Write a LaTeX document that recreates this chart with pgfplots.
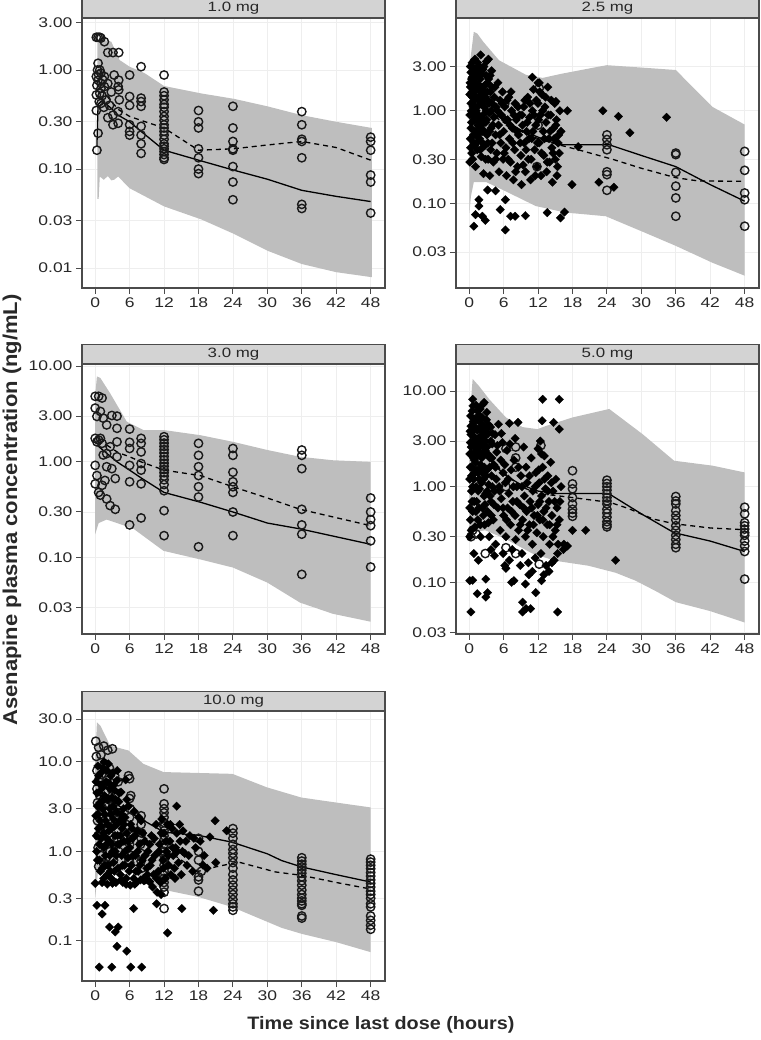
\documentclass[border=0pt]{standalone}
\usepackage{fontspec}
\setmainfont{Liberation Sans}
\newfontfamily\tickfont[FakeStretch=1.25]{Liberation Sans}
\newfontfamily\labfont[FakeStretch=1.1]{Liberation Sans}
\usepackage{pgfplots}
\pgfplotsset{compat=1.18}
\definecolor{bandgray}{RGB}{190,190,190}
\definecolor{stripgray}{RGB}{211,211,211}
\definecolor{axisgray}{RGB}{75,75,75}
\definecolor{gridgray}{RGB}{238,238,238}
\definecolor{tickgray}{RGB}{40,40,40}

\pgfplotsset{
  dosepanel/.style={
    width=303pt, height=270pt, scale only axis,
    xmin=-2.3, xmax=50.5,
    xtick={0,6,...,48}, yminorticks=false,
    tick align=outside, tick pos=left,
    major tick length=6pt,
    axis line style={draw=axisgray, line width=1.1pt},
    every tick/.style={draw=axisgray, line width=1pt},
    grid=major, major grid style={draw=gridgray, line width=0.8pt},
    ticklabel style={font=\tickfont\fontsize{14}{16}\selectfont, text=tickgray},
    /pgf/number format/assume math mode=true,
    every axis title/.style={at={(0.5,1)}, anchor=south, fill=stripgray,
      draw=axisgray, line width=1.1pt, minimum width=303pt,
      minimum height=19pt, inner sep=0pt,
      font=\tickfont\fontsize{13.5}{15}\selectfont, text=tickgray},
    clip mode=individual,
  },
  bandfill/.style={fill=bandgray, draw=none},
  medline/.style={black, line width=1.3pt, no marks},
  obsline/.style={black, line width=1.3pt, dash pattern=on 5pt off 4pt, no marks},
  circmark/.style={only marks, mark=o, mark size=4.2pt,
    mark options={line width=1.4pt, draw=black!90}},
  crossmark/.style={only marks, mark=square*, mark size=3pt,
    mark options={rotate=45, fill=black, draw=black, line width=0.3pt}},
}

\begin{document}
\begin{tikzpicture}
\path[use as bounding box] (0,0) rectangle (760pt,-1040pt);

% ---------- 1.0 mg ----------
\begin{axis}[dosepanel, ymode=log, at={(82pt,-18pt)}, anchor=north west,
  title={1.0 mg}, ymin=0.0063, ymax=3.35,
  ytick={0.01,0.03,0.1,0.3,1,3},
  yticklabels={0.01,0.03,0.10,0.30,1.00,3.00}]
\addplot[bandfill] coordinates {
  (0.4,0.05) (0.4,2.0) (1,2.05) (2.8,1.93) (4.25,1.26) (6,1.08) (8.6,0.93)
  (12,0.69) (18.5,0.58) (24.3,0.51) (30,0.43) (36,0.35) (42,0.30) (48.2,0.26)
  (48.2,0.0081) (42,0.0091) (36,0.011) (30,0.015) (24.3,0.022) (18.5,0.031)
  (12,0.042) (6,0.064) (4,0.084) (3.3,0.078) (2.8,0.077) (2.2,0.085)
  (1.5,0.078) (0.8,0.084) (0.6,0.05)} -- cycle;
\addplot[medline] coordinates {(0.3,0.17) (0.5,0.45) (1,0.48) (2,0.45) (3,0.4)
  (4,0.35) (6,0.3) (8,0.24) (12,0.155) (18,0.123) (24,0.098) (30,0.079)
  (36,0.061) (42,0.053) (48,0.047)};
\addplot[obsline] coordinates {(2,0.55) (4,0.4) (6,0.34) (8,0.31) (12,0.26)
  (18,0.155) (24,0.16) (30,0.175) (36,0.19) (42,0.165) (48,0.123)};
\addplot[circmark] coordinates {
  (0.2,2.14) (0.5,2.14) (0.8,2.14) (1.0,2.1) (1.6,1.93) (2.2,1.5) (3.1,1.5)
  (4.1,1.5) (8.0,1.08) (12,0.89)
  (0.5,1.17) (0.8,1.0) (1.0,0.93) (0.2,0.86) (0.5,0.79) (1.0,0.73) (0.2,0.56)
  (0.8,0.58) (1.0,0.65) (1.6,0.86) (1.6,0.68) (2.2,0.73) (1.9,0.5) (1.0,0.46)
  (0.2,0.39) (0.5,0.23) (0.3,0.155)
  (2.5,0.44) (3.1,0.35) (2.2,0.33) (4.0,0.29) (3.1,0.28) (4.0,0.38) (4.2,0.5)
  (4.0,0.68) (4.1,0.79) (3.3,0.89) (4.1,0.63) (0.4,1.0) (0.6,0.9) (1.3,0.8)
  (0.3,0.7) (1.2,0.55) (0.7,0.48) (2.8,0.6) (1.5,0.42)
  (6,0.89) (6,0.54) (6,0.44) (6,0.28) (6,0.24) (6,0.22)
  (8,0.52) (8,0.48) (8,0.43) (8,0.27) (8,0.22) (8,0.18) (8,0.144)
  (12,0.6) (12,0.55) (12,0.5) (12,0.45) (12,0.42) (12,0.38) (12,0.34)
  (12,0.31) (12,0.28) (12,0.26) (12,0.24) (12,0.22) (12,0.2) (12,0.18)
  (12,0.17) (12,0.16) (12,0.15) (12,0.14) (12,0.13) (12,0.125)
  (18,0.39) (18,0.30) (18,0.26) (18,0.16) (18,0.13) (18,0.10) (18,0.09)
  (24,0.43) (24,0.26) (24,0.19) (24,0.16) (24,0.155) (24,0.106) (24,0.074) (24,0.049)
  (36,0.38) (36,0.28) (36,0.2) (36,0.19) (36,0.13) (36,0.044) (36,0.04)
  (48,0.21) (48,0.19) (48,0.155) (48,0.087) (48,0.074) (48,0.036)};
\end{axis}

% ---------- 2.5 mg ----------
\begin{axis}[dosepanel, ymode=log, at={(456pt,-18pt)}, anchor=north west,
  title={2.5 mg}, ymin=0.0123, ymax=10,
  ytick={0.03,0.1,0.3,1,3},
  yticklabels={0.03,0.10,0.30,1.00,3.00}]
\addplot[bandfill] coordinates {
  (0.05,0.079) (0.05,3.0) (0.8,7.1) (1.4,6.8) (2.5,5.5) (5.2,3.5) (9.9,2.44)
  (12.8,2.26) (16,2.5) (22.7,3.0) (24,3.1) (30.8,2.9) (36,2.75) (42.4,1.1)
  (48,0.71)
  (48,0.0167) (42.4,0.023) (36,0.035) (30.8,0.048) (23.8,0.073) (16.8,0.08)
  (11.6,0.094) (6.3,0.136) (3,0.17) (0.8,0.17) (0.3,0.12)} -- cycle;
\addplot[medline] coordinates {(0.5,1.2) (1,1.3) (2,1.2) (4,0.95) (6,0.8)
  (9,0.62) (12,0.52) (15.6,0.43) (18,0.43) (24.4,0.43) (30,0.33) (36,0.25)
  (42,0.16) (48,0.106)};
\addplot[obsline] coordinates {(0.5,1.0) (2,1.1) (4,0.9) (6,0.75) (9,0.6)
  (12,0.5) (15.6,0.43) (19,0.38) (25,0.3) (30,0.24) (36,0.19) (40,0.175)
  (48,0.174)};
\addplot[circmark] coordinates {
  (0.8,3.3) (3.2,1.3) (6.2,1.2) (12.2,1.75) (12,0.7) (11.8,0.25)
  (24,0.55) (24,0.49) (24,0.43) (24,0.38) (24,0.22) (24,0.205) (24,0.139)
  (36,0.35) (36,0.337) (36,0.217) (36,0.154) (36,0.115) (36,0.073)
  (48,0.365) (48,0.228) (48,0.13) (48,0.11) (48,0.057)};
\addplot[crossmark] coordinates {
  (0.1,0.28) (0.2,0.5) (0.3,1.2) (0.3,2.6) (0.4,0.75) (0.5,1.6) (0.5,3.3)
  (0.6,0.3) (0.7,0.9) (0.8,2.0) (0.8,0.45) (0.9,1.3) (1.0,3.6) (1.0,0.6)
  (1.1,0.25) (1.2,1.0) (1.3,2.4) (1.4,0.38) (1.5,1.8) (1.5,0.7) (1.6,3.0)
  (1.7,1.15) (1.8,0.5) (1.9,2.2) (2.0,0.85) (2.0,4.0) (2.1,0.32) (2.2,1.5)
  (2.3,0.6) (2.4,2.8) (2.5,0.21) (2.6,1.1) (2.7,0.42) (2.8,1.9) (2.9,0.75)
  (3.0,3.4) (3.1,0.55) (3.2,1.3) (3.3,0.3) (3.4,2.2) (3.5,0.95) (3.6,0.2)
  (3.7,1.6) (3.8,0.65) (3.9,2.7) (4.0,0.45) (4.0,1.2)
  (0.2,1.8) (0.4,2.2) (0.6,1.4) (0.7,2.9) (0.9,0.8) (1.1,1.7) (1.2,0.55)
  (1.4,2.7) (1.6,0.9) (1.7,1.9) (1.9,0.65) (2.1,1.2) (2.2,2.5) (2.4,0.9)
  (0.3,0.65) (0.5,1.0) (1.0,1.4) (1.3,0.8) (1.8,1.3) (2.6,1.6) (3.0,1.0)
  (3.2,2.0) (0.15,2.0) (0.5,2.3)
  (0.1,0.9) (0.1,1.5) (0.2,3.0) (0.25,0.4) (0.35,1.0) (0.45,0.35) (0.55,2.0)
  (0.65,1.1) (0.75,0.55) (0.85,1.6) (0.95,2.6) (0.95,0.42) (1.05,1.1)
  (1.15,2.0) (1.25,0.45) (1.35,1.4) (1.45,3.3) (1.55,0.55) (1.65,1.3)
  (1.75,2.5) (1.85,0.8) (1.95,1.6) (1.95,0.38) (2.05,2.9) (2.15,0.7)
  (2.25,1.8) (2.35,0.45) (2.45,1.3) (2.55,3.0) (2.65,0.6) (2.75,1.4)
  (2.85,0.3) (2.95,2.4) (3.05,0.8) (3.15,1.6) (3.25,0.45) (3.35,3.6)
  (3.45,1.2) (3.55,0.6) (3.65,2.4) (3.75,0.38) (3.85,1.0) (3.95,1.8)
  (4.2,0.28) (4.3,0.85) (4.5,1.8) (4.6,0.55) (4.7,1.1) (4.8,0.35) (5.0,2.0)
  (5.1,0.7) (5.2,0.22) (5.4,1.3) (5.5,0.45) (5.6,0.9) (5.8,1.6) (5.9,0.3)
  (6.0,0.6) (6.2,1.1) (6.4,0.4) (6.5,0.2) (6.7,0.8) (6.9,1.4) (7.0,0.5)
  (7.2,0.28) (7.4,1.0) (7.5,0.65) (7.7,0.18) (7.9,0.38) (8.0,1.2) (8.2,0.8)
  (8.4,0.25) (8.6,0.55) (8.8,0.9) (9.0,0.33) (9.1,0.16) (9.3,0.7) (9.5,1.1)
  (9.6,0.45) (9.8,0.22) (10.0,0.6) (10.2,1.4) (10.3,0.3) (10.5,0.85)
  (10.7,0.18) (10.9,0.5) (11.0,1.0) (11.2,1.7) (11.4,0.38) (11.6,0.7)
  (11.8,0.25) (12.0,1.2) (12.0,2.0) (12.2,0.45) (12.4,0.9) (12.5,0.2)
  (12.7,1.5) (12.9,0.6) (13.0,0.33) (13.2,1.1) (13.4,0.75) (13.5,0.22)
  (13.7,1.8) (13.9,0.5) (14.0,0.28) (14.2,0.9) (14.4,0.4) (14.5,0.17)
  (14.7,0.65) (14.9,1.2) (15.0,0.3) (15.2,0.8) (15.3,0.2) (15.5,0.45)
  (15.6,0.55) (15.8,1.0)
  (4.1,0.7) (4.4,1.4) (4.6,0.3) (4.9,1.0) (5.3,0.55) (5.7,1.2) (6.1,0.35)
  (6.3,0.8) (6.6,1.3) (6.8,0.3) (7.1,0.7) (7.3,1.6) (7.6,0.45) (7.8,0.9)
  (8.1,0.22) (8.3,0.6) (8.5,1.1) (8.9,0.45) (9.2,0.9) (9.4,0.26) (9.7,1.3)
  (9.9,0.38) (10.1,0.75) (10.4,0.5) (10.6,1.2) (10.8,0.3) (11.1,0.6)
  (11.3,0.9) (11.5,0.2) (11.7,1.3) (11.9,0.45) (12.1,0.8) (12.3,1.6)
  (12.6,0.35) (12.8,1.0) (13.1,0.5) (13.3,1.4) (13.6,0.28) (13.8,0.9)
  (14.1,0.6) (14.3,1.3) (14.6,0.35) (14.8,0.5) (15.1,0.7) (15.4,0.25)
  (15.7,0.35) (16,0.6)
  (23.3,1.0) (26,0.87) (28,0.58) (34.4,0.85) (17.1,1.0) (19,0.41) (17.9,0.16)
  (22.6,0.17) (25.2,0.15) (15.1,1.26) (11,2.3) (12.2,2.0)
  (0.8,0.057) (1.1,0.076) (1.7,0.094) (2.3,0.073) (2.8,0.066) (1.7,0.11)
  (3.2,0.14) (4.6,0.137) (6.3,0.052) (6.3,0.11) (5.4,0.086) (7.2,0.073)
  (8.0,0.073) (9.8,0.074) (13.6,0.08) (15.9,0.07) (16.6,0.081)};
\end{axis}

% ---------- 3.0 mg ----------
\begin{axis}[dosepanel, ymode=log, at={(82pt,-364pt)}, anchor=north west,
  title={3.0 mg}, ymin=0.016, ymax=10.5,
  ytick={0.03,0.1,0.3,1,3,10},
  yticklabels={0.03,0.10,0.30,1.00,3.00,10.00}]
\addplot[bandfill] coordinates {
  (0,0.176) (0,5) (0.3,7.8) (0.9,7.5) (2.6,5.2) (5.5,2.63) (8.4,2.15)
  (11.9,2.15) (18.3,1.9) (24,1.62) (30,1.33) (35.7,1.13) (41.4,1.04) (48,1.0)
  (48,0.0215) (41.4,0.026) (35.7,0.034) (30,0.055) (24,0.079) (18.3,0.096)
  (11.9,0.118) (6.7,0.2) (3.8,0.23) (2,0.25) (0.6,0.23)} -- cycle;
\addplot[medline] coordinates {(0.3,1.5) (1,1.38) (3.8,1.0) (6,0.82) (8,0.68)
  (12,0.48) (18.3,0.38) (24,0.3) (30,0.23) (35.7,0.2) (48,0.138)};
\addplot[obsline] coordinates {(2,1.5) (4,1.25) (6,1.13) (8,1.0) (12,0.82)
  (18.3,0.72) (24,0.55) (30,0.42) (35.7,0.32) (48,0.216)};
\addplot[circmark] coordinates {
  (0,4.83) (0.6,4.83) (1.2,4.64) (0,3.64) (0.3,2.98) (0.9,3.36) (1.4,2.86)
  (0,1.76) (0.3,1.62) (0.6,1.69) (0.9,1.76) (1.2,1.56) (0,0.92) (0.3,0.72)
  (0,0.59) (0.6,0.48) (0.9,0.45) (1.2,0.57) (1.7,0.64) (2.0,0.41) (2.6,0.35)
  (3.5,0.32) (2.0,0.89) (2.9,0.85) (3.8,1.13) (2.6,1.44) (2.0,1.22)
  (2.9,3.05) (3.8,3.0) (3.8,2.24) (3.8,1.62) (3.5,0.67) (1.4,1.18) (2.0,2.43)
  (6,2.2) (6,1.6) (6,1.38) (6,0.92) (6,0.62) (6,0.22)
  (8,1.76) (8,1.56) (8,1.27) (8,0.96) (8,0.82) (8,0.59) (8,0.26)
  (12,1.83) (12,1.7) (12,1.57) (12,1.45) (12,1.34) (12,1.24) (12,1.14)
  (12,1.05) (12,0.97) (12,0.9) (12,0.83) (12,0.77) (12,0.71) (12,0.65)
  (12,0.58) (12,0.5) (12,0.31) (12,0.17)
  (18,1.56) (18,1.17) (18,0.89) (18,0.72) (18,0.55) (18,0.43) (18,0.13)
  (24,1.38) (24,1.17) (24,0.78) (24,0.62) (24,0.55) (24,0.48) (24,0.3) (24,0.17)
  (36,1.33) (36,1.17) (36,0.85) (36,0.32) (36,0.22) (36,0.176) (36,0.067)
  (48,0.42) (48,0.3) (48,0.25) (48,0.216) (48,0.15) (48,0.08)};
\end{axis}

% ---------- 5.0 mg ----------
\begin{axis}[dosepanel, ymode=log, at={(456pt,-364pt)}, anchor=north west,
  title={5.0 mg}, ymin=0.0288, ymax=19.2,
  ytick={0.03,0.1,0.3,1,3,10},
  yticklabels={0.03,0.10,0.30,1.00,3.00,10.00}]
\addplot[bandfill] coordinates {
  (0.05,0.33) (0.05,5) (0.6,13.4) (1.7,11.3) (3.5,8.2) (6.4,5.3) (9.3,4.2)
  (11.9,4.0) (13.3,4.3) (18,5.3) (24.4,6.5) (30.2,3.55) (35.7,1.87)
  (42.4,1.66) (48,1.41)
  (48,0.038) (42,0.05) (36,0.062) (32.5,0.081) (29,0.104) (25.5,0.126)
  (20.8,0.149) (15,0.168) (11,0.2) (6.3,0.285) (2.8,0.35)} -- cycle;
\addplot[medline] coordinates {(0.5,2.2) (1,2.6) (2,2.4) (4,1.8) (6,1.35)
  (9,1.05) (12,0.9) (15,0.85) (18,0.85) (23.7,0.85) (24.4,0.84) (30,0.52)
  (35.7,0.33) (42,0.27) (48,0.21)};
\addplot[obsline] coordinates {(1,2.4) (3,2.1) (6,1.4) (9,1.0) (12,0.85)
  (18,0.77) (22.5,0.71) (24.4,0.69) (27.8,0.59) (32,0.46) (35.7,0.41)
  (42,0.37) (48,0.355)};
\addplot[circmark] coordinates {
  (6.4,2.5) (8.1,2.6) (8.1,2.0) (8.1,1.6) (6.4,1.0) (6.4,0.23) (8.1,0.2)
  (0.6,0.35) (0.3,0.3) (12.5,2.7) (12.2,0.155) (2.8,0.2) (1.2,0.32)
  (18,1.47) (18,1.07) (18,0.95) (18,0.77) (18,0.66) (18,0.58) (18,0.53) (18,0.49)
  (24,1.17) (24,1.08) (24,1.0) (24,0.92) (24,0.84) (24,0.77) (24,0.71)
  (24,0.66) (24,0.58) (24,0.53) (24,0.48) (24,0.43) (24,0.4) (24,0.38)
  (36,0.79) (36,0.71) (36,0.66) (36,0.56) (36,0.5) (36,0.45) (36,0.39)
  (36,0.35) (36,0.31) (36,0.28) (36,0.25) (36,0.23)
  (48,0.61) (48,0.52) (48,0.42) (48,0.39) (48,0.36) (48,0.33) (48,0.31)
  (48,0.27) (48,0.24) (48,0.21) (48,0.108)};
\addplot[crossmark] coordinates {
  (0.1,0.3) (0.2,2.9) (0.2,1.6) (0.3,4.3) (0.4,0.9) (0.5,2.2) (0.5,6.2)
  (0.6,0.55) (0.7,3.4) (0.8,1.2) (0.9,5.1) (1.0,0.38) (1.0,2.6)
  (1.1,1.8) (1.2,7.1) (1.3,0.7) (1.4,3.9) (1.5,1.4) (1.5,0.45) (1.6,2.3)
  (1.7,5.6) (1.8,0.95) (1.9,3.0) (2.0,1.7) (2.0,0.3)
  (2.1,4.6) (2.2,2.0) (2.3,0.6) (2.4,7.3) (2.5,1.2) (2.6,3.3) (2.7,0.4)
  (2.8,2.4) (2.9,0.85) (3.0,5.0) (3.1,1.5) (3.2,0.55) (3.3,3.6) (3.4,1.05)
  (3.5,0.3) (3.6,2.0) (3.7,4.2) (3.8,0.7) (3.9,1.3) (4.0,2.8)
  (0.3,3.5) (0.7,4.8) (1.1,2.8) (1.3,5.0) (1.6,3.2) (1.9,6.5) (2.2,3.8)
  (2.5,2.7) (0.4,1.3) (0.9,1.9) (1.4,2.1) (1.8,1.5) (2.3,1.4) (2.8,4.0)
  (3.1,2.6) (0.5,0.7) (1.2,1.0) (1.7,0.6) (2.6,0.8)
  (0.1,0.6) (0.1,1.2) (0.1,2.2) (0.15,3.8) (0.2,0.45) (0.25,5.5) (0.35,2.6)
  (0.35,0.35) (0.45,1.6) (0.55,3.8) (0.6,1.0) (0.65,7.0) (0.75,2.0)
  (0.85,0.7) (0.85,3.0) (0.95,1.4) (1.05,4.2) (1.15,0.55) (1.25,2.3)
  (1.35,1.5) (1.45,6.2) (1.55,0.9) (1.65,4.0) (1.75,1.2) (1.85,2.6)
  (1.95,0.4) (2.05,3.4) (2.15,1.1) (2.25,5.3) (2.35,2.1) (2.45,0.5)
  (2.55,4.3) (2.65,1.6) (2.75,0.65) (2.85,3.0) (2.95,1.3) (3.05,6.0)
  (3.15,0.9) (3.25,2.2) (3.35,0.42) (3.45,4.4) (3.55,1.6) (3.65,0.8)
  (3.75,3.0) (3.85,0.5) (3.95,2.0) (4.05,1.0) (4.1,3.6) (4.3,0.65)
  (4.6,1.6) (4.9,2.7) (5.3,0.9) (5.6,3.6) (5.9,0.6) (6.2,1.7) (6.5,0.45)
  (6.8,1.2) (7.1,2.8) (7.4,0.55) (7.7,1.0) (8.0,3.2) (8.3,0.7) (8.6,1.6)
  (8.9,0.4) (9.2,1.0) (9.5,0.6) (9.9,1.6) (10.2,0.35) (10.5,1.3) (10.9,0.6)
  (11.2,0.4) (11.5,1.0) (11.9,0.5) (12.1,1.5) (12.3,0.7) (12.6,2.2)
  (12.8,0.45) (13.1,1.2) (13.4,0.6) (13.7,0.9) (14,0.4) (14.3,1.1)
  (14.6,0.3) (14.9,0.7) (15.3,0.4) (15.8,0.7)
  (4.2,0.45) (4.3,1.7) (4.4,0.9) (4.5,3.5) (4.6,0.25) (4.7,1.2) (4.8,2.3)
  (5.0,0.6) (5.1,4.5) (5.2,1.0) (5.4,0.35) (5.5,1.9) (5.6,0.75) (5.8,2.9)
  (5.9,1.4) (6.0,0.5) (6.2,0.15) (6.3,1.1) (6.4,0.3) (6.6,2.4) (6.7,0.6)
  (6.9,0.85) (7.0,4.6) (7.2,0.4) (7.3,1.5) (7.5,0.22) (7.6,0.7) (7.8,1.9)
  (8.0,0.5) (8.1,0.28) (8.3,1.0) (8.5,4.7) (8.6,0.35) (8.8,0.65) (9.0,1.3)
  (9.2,0.2) (9.3,0.45) (9.5,2.6) (9.6,0.8) (9.8,0.3) (10.0,0.55) (10.1,1.1)
  (10.3,0.16) (10.5,0.4) (10.6,0.7) (10.8,2.0) (11.0,0.25) (11.1,0.9)
  (11.3,0.5) (11.5,0.18) (11.6,1.4) (11.8,0.33) (12.0,0.65) (12.0,2.5)
  (12.2,1.1) (12.3,0.45) (12.4,3.0) (12.5,0.2) (12.6,0.8) (12.8,1.6)
  (12.9,0.3) (13.0,0.55) (13.1,2.1) (13.3,0.95) (13.4,0.15) (13.6,0.4)
  (13.7,1.3) (13.9,0.7) (14.0,0.25) (14.2,1.8) (14.4,0.5) (14.6,0.9)
  (14.8,0.17) (15.0,0.35) (15.1,1.2) (15.3,0.6) (15.5,0.25) (15.7,0.45)
  (16.0,1.0) (16.5,0.25)
  (0.6,8.2) (2.6,7.6) (12.8,8.2) (15.7,8.2) (12.7,4.9) (14.7,4.7) (15.7,4.0)
  (25.5,0.17) (20.3,0.35) (18,0.35) (0.3,0.049) (15.4,0.049) (9.3,0.049)
  (9.9,0.053) (10.7,0.053) (0.1,0.104) (0.6,0.105) (2.9,0.108) (1.4,0.076)
  (2.9,0.07) (3.2,0.078) (7.8,0.104) (9.3,0.062) (9.8,0.096) (10.4,0.12)
  (11.6,0.078) (12.6,0.104) (6.4,0.14) (7.4,0.1) (11.0,0.13) (13.0,0.12)
  (13.9,0.13) (14.4,0.16) (15.4,0.2) (16.4,0.22) (17.1,0.24) (0.8,0.2)
  (1.6,0.17) (3.8,0.22) (4.4,0.19) (5.9,0.2) (8.9,0.15) (7.0,0.17)};
\end{axis}

% ---------- 10.0 mg ----------
\begin{axis}[dosepanel, ymode=log, at={(82pt,-711pt)}, anchor=north west,
  title={10.0 mg}, ymin=0.0357, ymax=37,
  ytick={0.1,0.3,1,3,10,30},
  yticklabels={0.1,0.3,1.0,3.0,10.0,30.0}]
\addplot[bandfill] coordinates {
  (0,0.31) (0,10) (0.3,27.6) (0.9,25.4) (2.6,15.2) (5.8,13.4) (8.4,9.5)
  (11.9,7.7) (23.9,7.35) (29.9,5.2) (35.9,4.0) (41.5,3.55) (48,3.1)
  (48,0.075) (42,0.097) (36,0.12) (32.5,0.14) (23.8,0.24) (18,0.31)
  (12.2,0.37) (9.3,0.45) (6,0.6) (3.5,0.61) (0.5,0.6)} -- cycle;
\addplot[medline] coordinates {(0.5,3.5) (1,4.2) (3,3.6) (6,2.7) (8,2.3)
  (12,1.64) (18,1.51) (23.8,1.27) (30,0.94) (32.5,0.79) (36,0.67) (42,0.55)
  (48,0.455)};
\addplot[obsline] coordinates {(1,3.5) (3,2.8) (6,2.0) (8,1.5) (12,1.1)
  (15,0.8) (18,0.6) (20.9,0.67) (25,0.76) (31.4,0.59) (36,0.54) (42,0.45)
  (48,0.38)};
\addplot[circmark] coordinates {
  (0.1,17) (0.2,11.5) (0.3,8) (0.3,5) (0.4,3.5) (0.4,2.2) (0.5,1.5) (0.5,1.1)
  (0.6,14.5) (0.7,6.5) (0.8,4.2) (0.8,2.6) (0.9,1.8) (1.0,0.9) (1.0,12)
  (1.1,7.2) (1.2,3.1) (1.3,5.5) (1.4,2.0) (1.5,15) (1.6,1.3) (1.7,9.5)
  (1.8,4.6) (1.9,2.8) (2.0,0.72) (2.0,6.2) (2.2,13.5) (2.3,3.8) (2.4,1.6)
  (2.5,8.5) (2.6,2.3) (2.8,5.0) (2.9,1.2) (3.0,14.0) (3.1,3.3) (3.2,0.8)
  (3.4,7.0) (3.5,2.1) (3.7,4.4) (3.8,1.4) (4.0,6.0) (4.0,2.7) (4.1,1.0)
  (0.6,0.68) (1.4,0.75) (2.6,1.0)
  (5.8,7.0) (6.0,6.5) (6.2,4.2) (6.0,3.9) (6.1,3.0) (6.0,2.4) (6.2,1.6)
  (6.1,1.35) (6.0,1.2) (6.3,0.9) (6.0,0.75) (5.9,0.8)
  (8.0,2.5) (8.0,2.0) (8.1,1.6) (7.9,1.2) (8.0,0.95) (8.0,0.78) (8.1,0.65)
  (8.0,1.4)
  (12,5.0) (12,3.4) (12,3.0) (12,2.7) (12,2.4) (12,2.1) (12,1.9) (12,1.7)
  (12,1.5) (12,1.35) (12,1.2) (12,1.1) (12,1.0) (12,0.9) (12,0.8) (12,0.7)
  (12,0.6) (12,0.5) (12,0.45) (12,0.4) (12,0.35) (12,0.23) (11.8,0.55)
  (12.2,0.85)
  (18,1.4) (18,1.0) (18,0.8) (18,0.52) (18,0.48) (18,0.36) (18.5,0.6)
  (24,1.8) (24,1.6) (24,1.4) (24,1.2) (24,1.05) (24,0.95) (24,0.85) (24,0.75)
  (24,0.65) (24,0.55) (24,0.48) (24,0.42) (24,0.37) (24,0.33) (24,0.29)
  (24,0.26) (24,0.24) (24,0.22)
  (36,0.85) (36,0.78) (36,0.72) (36,0.67) (36,0.62) (36,0.57) (36,0.52)
  (36,0.47) (36,0.42) (36,0.37) (36,0.33) (36,0.3) (36,0.28) (36,0.26)
  (36,0.25) (36,0.19) (36,0.18)
  (48,0.82) (48,0.76) (48,0.7) (48,0.64) (48,0.58) (48,0.53) (48,0.48)
  (48,0.44) (48,0.4) (48,0.36) (48,0.33) (48,0.3) (48,0.26) (48,0.24)
  (48,0.19) (48,0.17) (48,0.15) (48,0.135)};
\addplot[crossmark] coordinates {
  (0.2,1.5) (0.3,4.5) (0.4,0.8) (0.5,2.6) (0.6,7.0) (0.7,1.2) (0.8,3.5)
  (0.9,0.6) (1.0,5.5) (1.1,1.9) (1.2,0.45) (1.3,3.0) (1.4,8.5) (1.5,1.1)
  (1.6,4.2) (1.7,0.7) (1.8,2.2) (1.9,6.0) (2.0,1.4) (2.1,0.55) (2.2,3.8)
  (2.3,9.5) (2.4,1.7) (2.5,0.9) (2.6,5.0) (2.7,2.6) (2.8,0.5) (2.9,1.2)
  (3.0,7.5) (3.1,3.2) (3.2,0.75) (3.3,1.9) (3.4,4.8) (3.5,1.0) (3.6,0.45)
  (3.7,2.8) (3.8,6.2) (3.9,1.5) (4.0,0.65) (4.1,3.6) (4.2,1.2) (4.3,2.2)
  (4.4,0.55) (4.5,4.6) (4.6,0.9) (4.7,1.8) (4.8,0.45) (4.9,3.0) (5.0,1.3)
  (5.1,0.7) (5.2,2.4) (5.3,6.3) (5.4,0.5) (5.5,1.6) (5.7,0.85) (5.8,3.2)
  (6.0,1.1) (6.1,0.42) (6.2,2.0) (6.3,0.7) (6.5,1.4) (6.7,0.5) (6.8,2.8)
  (7.0,0.9) (7.2,0.45) (7.3,1.7) (7.5,0.6) (7.7,1.2) (7.9,0.48) (8.0,2.2)
  (8.2,0.8) (8.4,0.5) (8.6,1.3) (8.8,0.48) (9.0,0.65) (9.2,1.0) (9.4,0.46)
  (9.6,0.7) (9.8,1.5) (10.0,0.4) (10.2,0.55) (10.4,0.9) (10.6,2.0)
  (10.8,0.35) (11.0,0.6) (11.2,1.2) (11.4,0.45) (11.6,2.3) (11.8,0.8)
  (12.0,1.6) (12.2,0.5) (12.4,1.0) (12.6,2.0) (12.8,0.7) (13.0,1.3)
  (13.2,0.55) (13.4,1.8) (13.6,0.9) (13.8,0.65) (14.0,1.1) (14.2,1.6)
  (14.5,0.75) (14.8,1.3) (15.0,0.55) (15.3,1.7) (15.6,0.95) (16.0,0.7)
  (16.5,1.5) (17,0.6) (17.5,1.1) (18.3,1.3) (19,0.9) (19.5,0.65) (20,1.45)
  (21,0.75)
  (0.1,2.5) (0.15,6) (0.25,1.0) (0.35,3.2) (0.45,9) (0.55,1.8) (0.65,4.6)
  (0.75,0.8) (0.85,2.2) (0.95,7.5) (1.05,1.4) (1.15,3.6) (1.25,0.65)
  (1.35,5.2) (1.45,1.6) (1.55,10) (1.65,2.6) (1.75,0.9) (1.85,4.0)
  (1.95,1.2) (2.05,8.0) (2.15,2.0) (2.25,0.7) (2.35,5.8) (2.45,1.3)
  (2.55,3.0) (2.65,0.6) (2.75,7.0) (2.85,1.8) (2.95,4.0) (3.05,1.0)
  (3.15,2.3) (3.25,5.5) (3.35,0.6) (3.45,1.5) (3.55,3.8) (3.65,0.9)
  (3.75,2.0) (3.85,8.0) (3.95,1.2) (4.2,4.5) (4.4,1.5) (4.6,2.6) (4.8,0.7)
  (5.0,2.0) (5.2,1.0) (5.5,3.8) (5.7,1.3) (5.9,0.6) (6.4,1.8) (6.6,0.9)
  (6.9,1.5) (7.1,0.6) (7.4,1.0) (7.6,2.4) (7.8,0.7) (8.3,1.6) (8.7,0.9)
  (9.1,0.55) (9.5,1.2) (9.9,0.8) (10.3,1.4) (10.7,0.5) (11.1,1.0)
  (11.5,1.6) (11.9,0.65) (12.3,1.3) (12.7,0.9) (13.1,2.0) (13.5,1.1)
  (13.9,0.5) (14.3,1.0) (14.7,2.0) (15.2,1.0) (15.8,1.3) (16.3,0.9)
  (17.2,1.4) (18.8,0.7)
  (0.7,0.051) (2.9,0.051) (6.2,0.051) (8.1,0.051) (5.5,0.077) (3.8,0.087)
  (2.5,0.143) (4.0,0.143) (3.5,0.126) (0.3,0.25) (1.7,0.25) (1.2,0.2)
  (6.7,0.23) (15.1,0.23) (20.6,0.22) (12.6,0.123) (14.2,3.2) (20.9,2.2)
  (22.9,1.7) (0.0,0.44) (2.1,0.43) (10.7,0.26) (11.5,0.33) (9.5,0.46)
  (8.5,0.47) (1.5,0.5) (4.5,0.48) (6.9,0.43) (3.0,0.44) (5.4,0.43)};
\end{axis}

\node[rotate=90, font=\labfont\bfseries\fontsize{20}{23}\selectfont, text=tickgray]
  at (12pt,-510pt) {Asenapine plasma concentration (ng/mL)};
\node[font=\labfont\bfseries\fontsize{18}{22}\selectfont, text=tickgray]
  at (381pt,-1025pt) {Time since last dose (hours)};
\end{tikzpicture}
\end{document}
